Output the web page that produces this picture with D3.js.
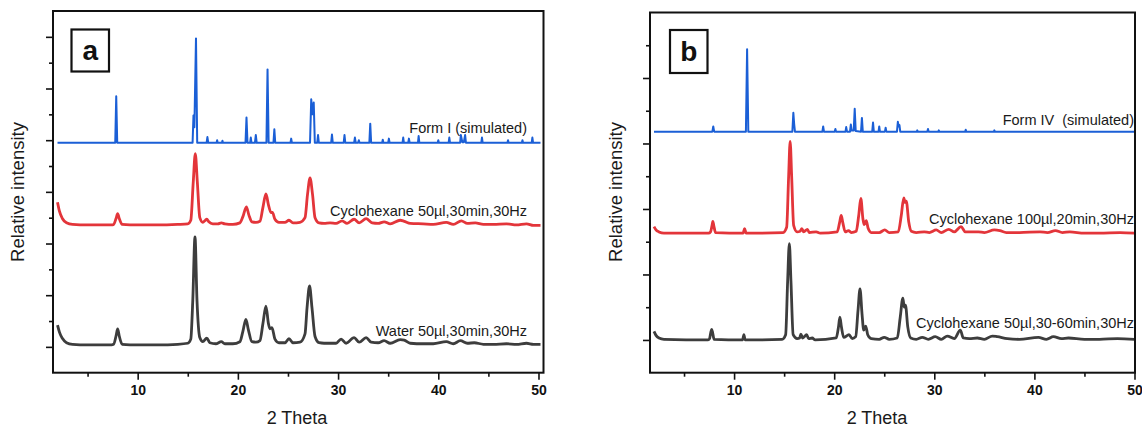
<!DOCTYPE html>
<html>
<head>
<meta charset="utf-8">
<script src="https://cdn.jsdelivr.net/npm/d3@7"></script>
<style>
  html, body { margin: 0; padding: 0; background: #fff; }
  svg { display: block; font-family: "Liberation Sans", Arial, sans-serif; }
  text { white-space: pre; }
</style>
</head>
<body>
<svg id="chart" width="1142" height="429"></svg>
<script>
// ---- Panel a : Form I (simulated) and milled samples ----
const formI = [
  [2.0,3.95],[7.76,3.95],[7.86,4.85],[7.96,3.95],
  [15.48,3.95],[15.57,4.48],[15.66,4.25],[15.82,5.97],[15.94,3.95],
  [16.88,3.95],[16.96,4.06],[17.04,3.95],
  [17.88,3.95],[17.93,4.0],[17.98,3.95],
  [18.41,3.95],[18.46,3.99],[18.51,3.95],
  [20.76,3.95],[20.86,4.44],[20.96,3.95],
  [21.22,3.95],[21.29,4.05],[21.36,3.95],
  [21.7,3.95],[21.79,4.1],[21.88,3.95],
  [22.85,3.95],[22.96,5.37],[23.07,3.95],
  [23.55,3.95],[23.64,4.21],[23.73,3.95],
  [25.25,3.95],[25.32,4.03],[25.39,3.95],
  [27.2,3.95],[27.32,4.79],[27.44,4.5],[27.57,4.73],[27.68,3.95],
  [27.92,3.95],[28.0,4.1],[28.08,3.95],
  [29.31,3.95],[29.39,4.11],[29.47,3.95],
  [30.56,3.95],[30.64,4.1],[30.72,3.95],
  [31.6,3.95],[31.68,4.05],[31.76,3.95],
  [32.0,3.95],[32.07,4.0],[32.14,3.95],
  [33.12,3.95],[33.21,4.32],[33.3,3.95],
  [34.4,3.95],[34.46,4.01],[34.52,3.95],
  [35.0,3.95],[35.07,4.03],[35.14,3.95],
  [36.43,3.95],[36.5,4.05],[36.57,3.95],
  [37.0,3.95],[37.07,4.03],[37.14,3.95],
  [37.97,3.95],[38.04,4.08],[38.11,3.95],
  [39.94,3.95],[40.0,4.0],[40.06,3.95],
  [41.03,3.95],[41.1,4.05],[41.17,3.95],
  [42.18,3.95],[42.25,4.1],[42.4,3.96],[42.55,3.96],[42.68,4.1],[42.76,3.95],
  [44.29,3.95],[44.36,4.05],[44.43,3.95],
  [46.9,3.95],[46.96,4.0],[47.02,3.95],
  [48.34,3.95],[48.4,4.0],[48.46,3.95],
  [49.32,3.95],[49.39,4.05],[49.46,3.95],
  [50.2,3.95]
];

const cyclo50 = [
  [2.0,2.8],[2.2,2.62],[2.5,2.48],[2.9,2.4],[3.5,2.37],[5.0,2.36],[7.4,2.36],
  [7.6,2.37],[7.85,2.49],[8.0,2.58],[8.15,2.49],[8.45,2.37],
  [10.0,2.36],[12.0,2.36],[14.0,2.37],[15.0,2.38],
  [15.3,2.45],[15.55,3.2],[15.75,3.74],[15.95,3.2],[16.2,2.5],[16.5,2.41],
  [16.75,2.45],[16.9,2.47],[17.1,2.42],[17.5,2.38],
  [18.0,2.38],[18.35,2.4],[18.7,2.38],[19.5,2.37],[20.2,2.4],
  [20.5,2.52],[20.85,2.71],[21.1,2.55],[21.4,2.42],[21.8,2.41],[22.2,2.43],
  [22.5,2.7],[22.8,2.96],[23.05,2.75],[23.3,2.6],[23.45,2.6],[23.7,2.47],[24.1,2.41],[24.7,2.41],
  [25.1,2.45],[25.5,2.4],[26.2,2.41],[26.7,2.5],
  [26.95,2.95],[27.2,3.27],[27.45,2.95],[27.7,2.5],[28.1,2.4],
  [28.6,2.39],[29.2,2.4],[29.8,2.39],[30.4,2.44],[30.9,2.39],[31.6,2.47],[32.1,2.4],
  [32.8,2.48],[33.4,2.4],[34.0,2.39],[34.6,2.42],[35.2,2.38],[36.2,2.45],[36.6,2.43],
  [37.2,2.39],[38.5,2.38],[39.5,2.37],[40.8,2.41],[41.5,2.37],[42.3,2.44],[42.9,2.39],
  [43.7,2.4],[44.5,2.37],[45.5,2.37],[46.8,2.38],[47.8,2.36],[48.8,2.38],[49.5,2.35],[50.2,2.35]
];

const water50 = [
  [2.0,0.42],[2.2,0.28],[2.5,0.16],[2.9,0.08],[3.5,0.05],[5.0,0.04],[7.4,0.04],
  [7.6,0.05],[7.85,0.22],[8.0,0.35],[8.15,0.22],[8.45,0.05],
  [10.0,0.04],[12.0,0.04],[14.0,0.05],[15.0,0.07],
  [15.3,0.15],[15.5,0.9],[15.72,2.13],[15.92,0.9],[16.2,0.18],[16.5,0.1],
  [16.9,0.17],[17.2,0.08],[17.8,0.06],[18.35,0.1],[18.7,0.06],[19.5,0.06],[20.2,0.1],
  [20.5,0.3],[20.8,0.53],[21.05,0.33],[21.4,0.1],[21.8,0.09],[22.2,0.12],
  [22.5,0.45],[22.8,0.79],[23.05,0.45],[23.2,0.35],[23.4,0.37],[23.7,0.15],[24.1,0.08],[24.7,0.08],
  [25.1,0.16],[25.5,0.08],[26.2,0.09],[26.7,0.25],
  [26.9,0.75],[27.15,1.18],[27.4,0.75],[27.7,0.2],[28.1,0.08],
  [28.6,0.07],[29.2,0.07],[29.8,0.07],[30.3,0.15],[30.8,0.07],[31.6,0.18],[32.1,0.09],
  [32.8,0.18],[33.3,0.09],[34.0,0.08],[34.6,0.12],[35.2,0.07],[36.2,0.14],[36.6,0.13],
  [37.2,0.07],[38.5,0.06],[39.5,0.06],[40.8,0.1],[41.5,0.06],[42.2,0.12],[42.9,0.07],
  [43.6,0.08],[44.5,0.05],[45.5,0.05],[46.8,0.06],[47.8,0.05],[48.8,0.07],[49.5,0.05],[50.2,0.05]
];

// ---- Panel b : Form IV (simulated) and milled samples ----
const formIV = [
  [2.0,3.18],[7.83,3.18],[7.92,3.26],[8.01,3.18],
  [11.18,3.18],[11.3,4.44],[11.42,3.18],
  [15.82,3.18],[15.92,3.47],[16.0,3.3],[16.08,3.18],
  [18.82,3.18],[18.9,3.26],[18.98,3.18],
  [20.05,3.18],[20.12,3.22],[20.19,3.18],
  [21.13,3.18],[21.2,3.25],[21.28,3.18],
  [21.58,3.18],[21.66,3.29],[21.74,3.2],
  [21.95,3.2],[22.05,3.53],[22.15,3.19],
  [22.68,3.18],[22.77,3.39],[22.86,3.18],
  [23.8,3.18],[23.88,3.32],[23.96,3.18],
  [24.43,3.18],[24.5,3.26],[24.57,3.18],
  [25.07,3.18],[25.14,3.24],[25.21,3.18],
  [26.27,3.18],[26.36,3.33],[26.45,3.26],[26.52,3.28],[26.6,3.18],
  [28.25,3.18],[28.3,3.2],[28.35,3.18],
  [29.3,3.18],[29.37,3.22],[29.44,3.18],
  [30.4,3.18],[30.45,3.2],[30.5,3.18],
  [33.08,3.18],[33.14,3.21],[33.2,3.18],
  [35.95,3.18],[36.0,3.2],[36.05,3.18],
  [50.0,3.18]
];

const cyclo100 = [
  [2.0,1.73],[2.2,1.68],[2.5,1.65],[3.0,1.63],[7.45,1.63],
  [7.65,1.65],[7.8,1.75],[7.88,1.81],[7.98,1.74],[8.15,1.64],
  [10.9,1.63],[11.05,1.7],[11.2,1.63],
  [14.9,1.64],[15.25,1.72],[15.45,2.5],[15.6,3.03],[15.75,2.5],[15.95,1.75],[16.3,1.65],
  [16.6,1.66],[16.77,1.7],[16.95,1.65],[17.33,1.69],[17.5,1.64],[18.2,1.65],[18.6,1.63],
  [20.3,1.65],[20.55,1.8],[20.7,1.9],[20.85,1.8],[21.1,1.65],[21.43,1.67],[21.7,1.64],[22.2,1.66],
  [22.45,1.9],[22.66,2.16],[22.87,1.85],[23.0,1.76],[23.2,1.82],[23.4,1.7],[23.7,1.64],
  [24.5,1.64],[25.05,1.68],[25.5,1.64],[26.4,1.65],[26.7,1.9],[26.95,2.17],[27.08,2.1],[27.2,2.12],
  [27.45,1.8],[27.7,1.66],[28.2,1.64],
  [29.0,1.65],[29.5,1.64],[30.2,1.68],[30.7,1.64],[31.45,1.69],[32.0,1.65],[32.67,1.73],[33.1,1.65],
  [34.4,1.65],[35.0,1.64],[36.0,1.68],[36.55,1.67],[37.2,1.64],[38.5,1.64],[40.56,1.65],[41.3,1.64],
  [42.1,1.67],[42.8,1.64],[43.54,1.65],[45.0,1.63],[46.5,1.63],[48.56,1.64],[50.0,1.63]
];

const cyclo50long = [
  [2.0,0.13],[2.2,0.07],[2.5,0.03],[3.0,0.01],[7.4,0.0],
  [7.55,0.02],[7.68,0.12],[7.76,0.16],[7.86,0.11],[8.0,0.01],
  [10.85,0.0],[10.98,0.08],[11.1,0.0],
  [14.8,0.01],[15.15,0.08],[15.35,0.9],[15.52,1.47],[15.68,0.9],[15.9,0.08],[16.3,0.02],
  [16.55,0.03],[16.67,0.09],[16.85,0.03],[17.25,0.08],[17.45,0.02],[17.8,0.03],[18.1,0.0],
  [20.2,0.03],[20.43,0.2],[20.57,0.35],[20.72,0.2],[20.95,0.04],[21.48,0.08],[21.8,0.02],[22.15,0.05],
  [22.38,0.45],[22.58,0.78],[22.78,0.4],[22.95,0.15],[23.15,0.21],[23.35,0.08],[23.7,0.02],
  [24.5,0.01],[25.0,0.04],[25.5,0.01],[26.3,0.03],[26.6,0.35],[26.86,0.64],[27.0,0.5],[27.12,0.53],
  [27.35,0.2],[27.65,0.03],[28.2,0.01],
  [28.8,0.04],[29.4,0.01],[30.1,0.05],[30.7,0.01],[31.3,0.06],[32.0,0.02],[32.6,0.15],[32.9,0.03],
  [33.5,0.02],[34.3,0.03],[35.0,0.01],[35.8,0.06],[36.3,0.05],[37.3,0.02],[38.5,0.01],[40.4,0.04],
  [41.2,0.01],[41.9,0.05],[42.7,0.02],[43.4,0.03],[45.0,0.01],[46.5,0.01],[48.3,0.02],[50.0,0.01]
];

// axis ticks and labels
const xMajor = [10, 20, 30, 40, 50];
const xMinor = [5, 15, 25, 35, 45];
const yMajorA = [0, 1, 2, 3, 4, 5, 6];
const yMinorA = [0.5, 1.5, 2.5, 3.5, 4.5, 5.5];
const yMajorB = [0, 1, 2, 3, 4];
const yMinorB = [0.5, 1.5, 2.5, 3.5, 4.5];
const xTitle = "2 Theta";
const yTitle = "Relative intensity";

const COLORS = { sim: "#1b5fd6", red: "#e3353a", dark: "#3d3d3d" };

const panels = [
  {
    tag: "a",
    box: { left: 53, right: 543.5, top: 11, bottom: 372.7 },
    xDomain: [1.55, 50.5], yDomain: [-0.5, 6.5],
    yMajor: yMajorA, yMinor: yMinorA,
    tagBox: [71.5, 29.5, 37.5, 42],
    series: [
      { data: formI, color: COLORS.sim, width: 2, curve: d3.curveLinear,
        label: "Form I (simulated)", ly: 133 },
      { data: cyclo50, color: COLORS.red, width: 2.8, curve: d3.curveMonotoneX,
        label: "Cyclohexane 50\u00b5l,30min,30Hz", ly: 215.5 },
      { data: water50, color: COLORS.dark, width: 2.8, curve: d3.curveMonotoneX,
        label: "Water 50\u00b5l,30min,30Hz", ly: 335.5 }
    ],
    labelRight: 527, yTitleX: 24, xTitleX: 297
  },
  {
    tag: "b",
    box: { left: 650, right: 1135, top: 12.5, bottom: 372.7 },
    xDomain: [1.6, 50.05], yDomain: [-0.5, 5],
    yMajor: yMajorB, yMinor: yMinorB,
    tagBox: [670, 30, 37.5, 43],
    series: [
      { data: formIV, color: COLORS.sim, width: 2, curve: d3.curveLinear,
        label: "Form IV  (simulated)", ly: 124.5 },
      { data: cyclo100, color: COLORS.red, width: 2.8, curve: d3.curveMonotoneX,
        label: "Cyclohexane 100\u00b5l,20min,30Hz", ly: 223.5 },
      { data: cyclo50long, color: COLORS.dark, width: 2.8, curve: d3.curveMonotoneX,
        label: "Cyclohexane 50\u00b5l,30-60min,30Hz", ly: 327.5 }
    ],
    labelRight: 1134, yTitleX: 622, xTitleX: 877
  }
];

const svg = d3.select("#chart");

panels.forEach(p => {
  const b = p.box;
  const x = d3.scaleLinear().domain(p.xDomain).range([b.left, b.right]);
  const y = d3.scaleLinear().domain(p.yDomain).range([b.bottom, b.top]);
  const g = svg.append("g");

  // traces
  p.series.forEach(s => {
    const line = d3.line().x(d => x(d[0])).y(d => y(d[1])).curve(s.curve);
    g.append("path")
      .datum(s.data)
      .attr("fill", "none")
      .attr("stroke", s.color)
      .attr("stroke-width", s.width)
      .attr("stroke-linejoin", "round")
      .attr("d", line);
  });

  // trace labels
  p.series.forEach(s => {
    g.append("text")
      .attr("x", p.labelRight)
      .attr("y", s.ly)
      .attr("text-anchor", "end")
      .attr("font-size", 14.5)
      .attr("fill", "#1a1a1a")
      .attr("xml:space", "preserve")
      .text(s.label);
  });

  // x axis: major with labels, minor without
  const xAxis = g.append("g")
    .attr("transform", `translate(0,${b.bottom})`)
    .call(d3.axisBottom(x).tickValues(xMajor).tickSize(7).tickPadding(5).tickFormat(d3.format("d")));
  g.append("g")
    .attr("transform", `translate(0,${b.bottom})`)
    .call(d3.axisBottom(x).tickValues(xMinor).tickSize(4).tickFormat(""));
  // y axis: ticks only
  g.append("g")
    .attr("transform", `translate(${b.left},0)`)
    .call(d3.axisLeft(y).tickValues(p.yMajor).tickSize(7).tickFormat(""));
  g.append("g")
    .attr("transform", `translate(${b.left},0)`)
    .call(d3.axisLeft(y).tickValues(p.yMinor).tickSize(4).tickFormat(""));

  g.selectAll(".domain").remove();
  g.selectAll(".tick line").attr("stroke", "#111").attr("stroke-width", 1.6);
  xAxis.selectAll(".tick text")
    .attr("font-size", 14)
    .attr("font-weight", "bold")
    .attr("fill", "#111")
    .attr("font-family", "Liberation Sans, Arial, sans-serif");

  // frame
  g.append("rect")
    .attr("x", b.left).attr("y", b.top)
    .attr("width", b.right - b.left).attr("height", b.bottom - b.top)
    .attr("fill", "none").attr("stroke", "#111").attr("stroke-width", 2);

  // panel tag
  const [tx, ty, tw, th] = p.tagBox;
  g.append("rect")
    .attr("x", tx).attr("y", ty).attr("width", tw).attr("height", th)
    .attr("fill", "#fff").attr("stroke", "#111").attr("stroke-width", 2.2);
  g.append("text")
    .attr("x", tx + tw / 2).attr("y", ty + th / 2 + 9.5)
    .attr("text-anchor", "middle")
    .attr("font-size", 28).attr("font-weight", "bold").attr("fill", "#111")
    .text(p.tag);

  // axis titles
  g.append("text")
    .attr("x", p.xTitleX).attr("y", 424)
    .attr("text-anchor", "middle")
    .attr("font-size", 18).attr("fill", "#1a1a1a")
    .text(xTitle);
  g.append("text")
    .attr("transform", `translate(${p.yTitleX},192) rotate(-90)`)
    .attr("text-anchor", "middle")
    .attr("font-size", 18.5).attr("fill", "#1a1a1a")
    .text(yTitle);
});
</script>
</body>
</html>
